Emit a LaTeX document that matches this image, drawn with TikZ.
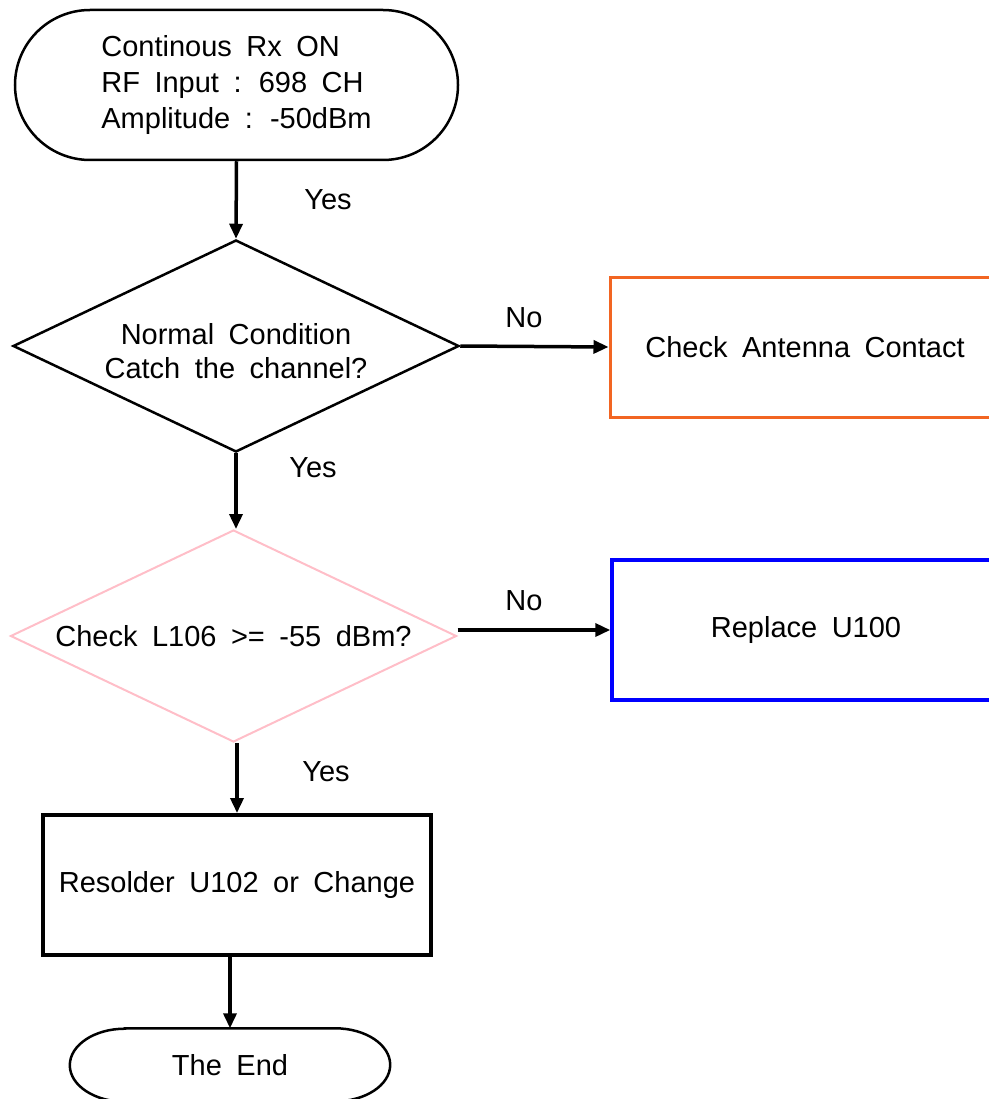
\documentclass[tikz,border=0pt]{standalone}
\usepackage{fontspec}
\setmainfont[WordSpace=1.8]{Liberation Sans}
\usetikzlibrary{shapes.geometric,arrows.meta}
\definecolor{orangeline}{RGB}{242,101,34}
\definecolor{pinkline}{RGB}{255,190,200}
\definecolor{blueline}{RGB}{0,0,255}
\begin{document}
\begin{tikzpicture}[x=1pt,y=-1pt,
  every node/.style={font=\fontsize{29}{36}\selectfont},
  conn/.style={line width=3.5pt,-{Triangle[length=15pt,width=13pt]}},
  lbl/.style={inner sep=0pt},
  boxstyle/.style={draw,rectangle,minimum width=388pt,minimum height=140pt,inner sep=0pt},
  dec/.style={draw,diamond,inner sep=0pt,aspect=2.1,minimum width=446pt,minimum height=212pt}]
\useasboundingbox (0,0) rectangle (988,1099);
% nodes
\node[draw,rounded corners=75pt,minimum width=443pt,minimum height=150pt,line width=2.5pt,align=left] (start) at (236.5,85) {Continous Rx ON\\RF Input : 698 CH\\Amplitude : -50dBm};
\node[dec,line width=2.5pt,align=center,font=\fontsize{29}{34}\selectfont,text height=66pt] (d1) at (236,346) {Normal Condition\\Catch the channel?};
\node[boxstyle,draw=orangeline,line width=3pt,minimum width=390pt] (b1) at (805,347) {Check Antenna Contact};
\node[dec,draw=pinkline,line width=2pt] (d2) at (233.5,636) {Check L106 >= -55 dBm?};
\node[boxstyle,draw=blueline,line width=3.5pt] (b2) at (806,630) {Replace U100};
\node[boxstyle,line width=4pt] (b3) at (237,885) {Resolder U102 or Change};
\node[minimum width=320pt,minimum height=73pt,inner sep=0pt] (e) at (230,1065) {The End};
\draw[line width=2.5pt] ([xshift=55pt]e.north west) -- ([xshift=-55pt]e.north east)
  arc[start angle=90,end angle=-90,x radius=55pt,y radius=36.5pt]
  -- ([xshift=55pt]e.south west)
  arc[start angle=-90,end angle=-270,x radius=55pt,y radius=36.5pt] -- cycle;
% connectors
\draw[conn] (start.south) -- (d1.north);
\draw[conn] (d1.east) -- (b1.west);
\draw[conn] (d1.south) -- (d1.south |- d2.north);
\draw[conn] (d2.east |- b2.west) -- (b2.west);
\draw[conn] (b3.north |- d2.south) -- (b3.north);
\draw[conn] (b3.south -| e.north) -- (e.north);
% labels
\node[lbl] (y1) at (328,200) {Yes};
\node[lbl] (n1) at (524,318) {No};
\node[lbl] (y2) at (313,468) {Yes};
\node[lbl] (n2) at (524,601) {No};
\node[lbl] (y3) at (326,772) {Yes};
\end{tikzpicture}
\end{document}
